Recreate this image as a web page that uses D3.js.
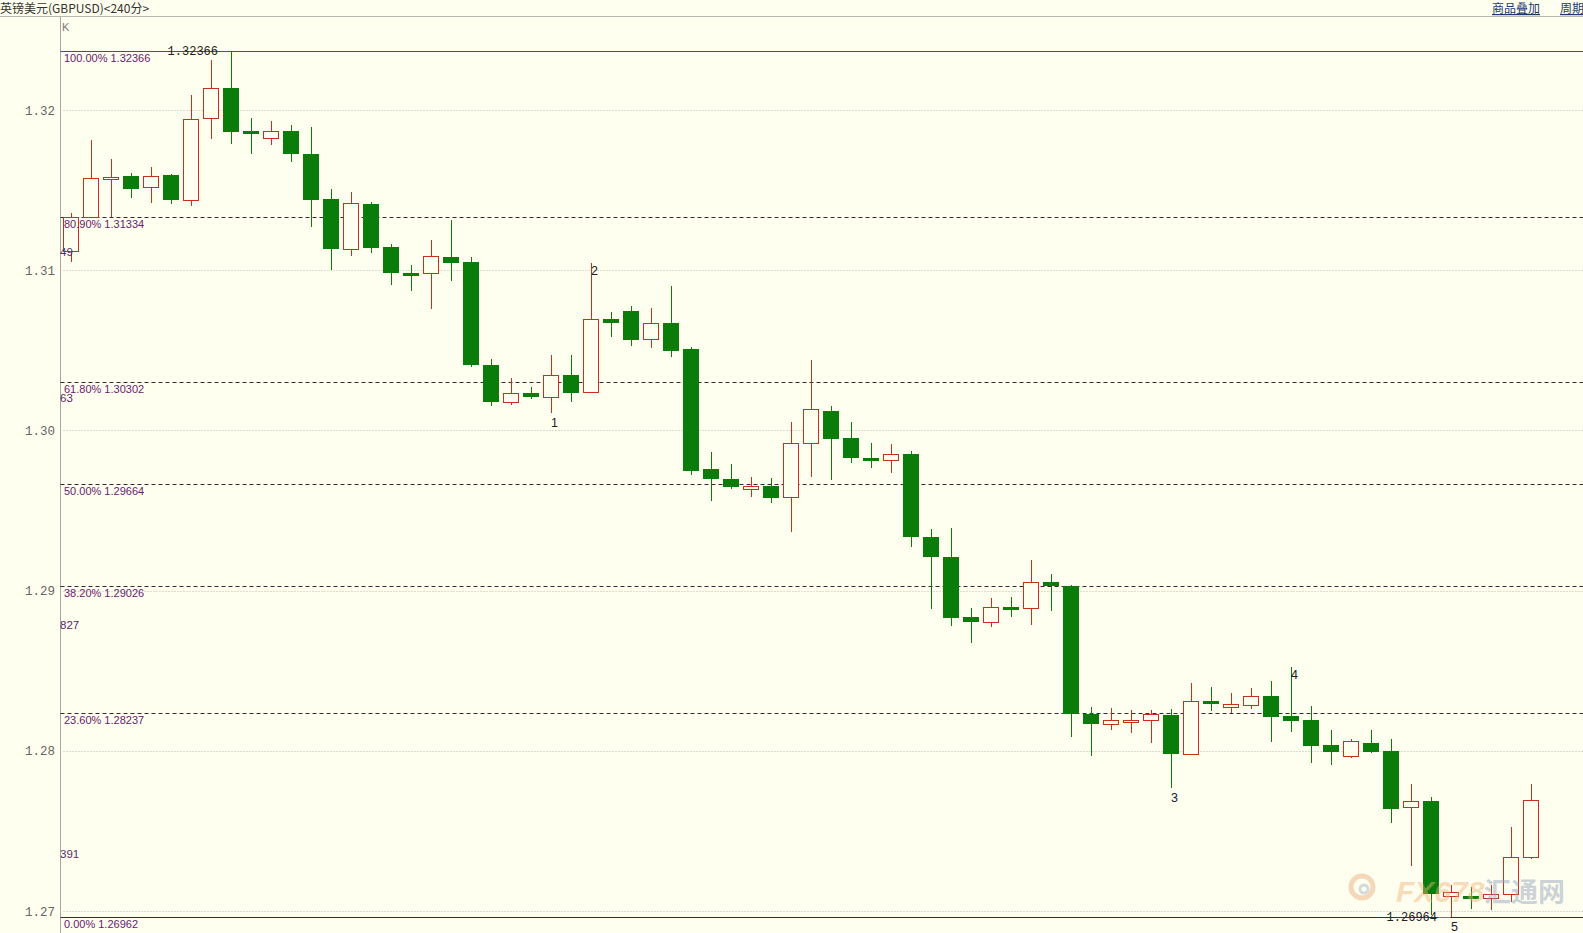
<!DOCTYPE html>
<html><head><meta charset="utf-8">
<script src="https://cdn.jsdelivr.net/npm/d3@7"></script>
<style>
html,body{margin:0;padding:0;background:#fffff0;}
svg{display:block;}
</style></head>
<body>
<svg id="chart" width="1583" height="933"></svg>
<script>
// ---- data ----
const title = "英镑美元(GBPUSD)<240分>";
const categories = d3.range(74).map(i => "K" + (i + 1));
const opens  = [1.31122,1.31334,1.31571,1.31588,1.31517,1.31594,1.31436,1.31948,1.32135,1.31869,1.31823,1.31869,1.31725,1.31443,1.31132,1.31413,1.31145,1.30984,1.30981,1.31082,1.31051,1.30408,1.30175,1.30233,1.30207,1.30346,1.30238,1.30695,1.30745,1.30569,1.30669,1.30508,1.29757,1.29695,1.29634,1.29653,1.29582,1.29919,1.30121,1.29953,1.29828,1.29813,1.29853,1.29335,1.29210,1.28835,1.28806,1.28898,1.28889,1.29052,1.29029,1.28228,1.28166,1.28192,1.28192,1.28223,1.27982,1.28311,1.28276,1.28284,1.28342,1.28217,1.28192,1.28036,1.27969,1.28049,1.27999,1.27649,1.27687,1.27096,1.27094,1.27079,1.27104,1.27335];
const highs  = [1.31359,1.31813,1.31692,1.31609,1.31646,1.31600,1.32094,1.32312,1.32366,1.31948,1.31933,1.31906,1.31896,1.31505,1.31490,1.31426,1.31165,1.31032,1.31189,1.31313,1.31080,1.30444,1.30325,1.30273,1.30471,1.30471,1.31047,1.30741,1.30777,1.30766,1.30901,1.30522,1.29863,1.29788,1.29711,1.29700,1.30054,1.30439,1.30152,1.30054,1.29919,1.29915,1.29871,1.29384,1.29389,1.28890,1.28952,1.28962,1.29191,1.29104,1.29033,1.28275,1.28265,1.28255,1.28255,1.28259,1.28425,1.28400,1.28359,1.28394,1.28436,1.28525,1.28280,1.28130,1.28072,1.28130,1.28072,1.27793,1.27713,1.27162,1.27148,1.27162,1.27522,1.27790];
const lows   = [1.31051,1.31334,1.31334,1.31453,1.31418,1.31411,1.31403,1.31821,1.31788,1.31725,1.31782,1.31677,1.31272,1.31001,1.31089,1.31109,1.30908,1.30872,1.30760,1.30934,1.30398,1.30154,1.30161,1.30196,1.30111,1.30179,1.30238,1.30585,1.30529,1.30516,1.30460,1.29722,1.29561,1.29632,1.29586,1.29549,1.29368,1.29711,1.29690,1.29798,1.29763,1.29732,1.29274,1.28883,1.28779,1.28671,1.28775,1.28833,1.28785,1.28873,1.28088,1.27967,1.28130,1.28109,1.28047,1.27766,1.27974,1.28248,1.28234,1.28259,1.28057,1.28120,1.27922,1.27911,1.27953,1.27985,1.27551,1.27283,1.26975,1.26964,1.27011,1.27006,1.27058,1.27322];
const closes = [1.31334,1.31574,1.31584,1.31509,1.31588,1.31438,1.31942,1.32135,1.31865,1.31848,1.31867,1.31723,1.31440,1.31134,1.31418,1.31140,1.30981,1.30974,1.31087,1.31043,1.30410,1.30179,1.30233,1.30207,1.30346,1.30235,1.30693,1.30672,1.30564,1.30669,1.30498,1.29748,1.29699,1.29649,1.29655,1.29580,1.29919,1.30132,1.29948,1.29830,1.29813,1.29851,1.29337,1.29212,1.28831,1.28806,1.28896,1.28885,1.29052,1.29029,1.28228,1.28166,1.28192,1.28192,1.28228,1.27982,1.28311,1.28300,1.28292,1.28340,1.28213,1.28188,1.28032,1.27994,1.28061,1.27994,1.27639,1.27687,1.27104,1.27117,1.27079,1.27104,1.27339,1.27691];
const tickValues = [1.27, 1.28, 1.29, 1.30, 1.31, 1.32];
const tickLabels = ["1.27", "1.28", "1.29", "1.30", "1.31", "1.32"];
const fibPercents = ["100.00%", "80.90%", "61.80%", "50.00%", "38.20%", "23.60%", "0.00%"];
const fibValues = [1.32366, 1.31334, 1.30302, 1.29664, 1.29026, 1.28237, 1.26962];
const waveLabels = ["1", "2", "3", "4", "5"];
const waveIndex = [24, 26, 55, 61, 69];
const waveAt = ["low", "high", "low", "high", "low"];
const sideLabels = ["49", "63", "827", "391"];
const sideValues = [1.31114, 1.30200, 1.28785, 1.27356];

// ---- scales ----
const svg = d3.select("#chart");
const W = 1583, H = 933;
const left = 60.5;
const x = d3.scaleBand().domain(categories).range([61.3, 1541.3]).paddingInner(0.2).paddingOuter(0.1);
const y = d3.scaleLinear().domain([1.27, 1.32]).range([911, 110]);
const bw = x.bandwidth();
const cx = i => Math.round(x(categories[i]) + bw / 2) + 0.5;

const UP = "#c8301e", DOWN = "#0a7c0a";

svg.append("rect").attr("width", W).attr("height", H).attr("fill", "#fffff0");

// header
svg.append("text").attr("x", 0).attr("y", 13).attr("font-family", "Noto Sans CJK SC").attr("font-size", 12).attr("fill", "#333").text(title);
svg.append("line").attr("x1", 0).attr("x2", W).attr("y1", 16.5).attr("y2", 16.5).attr("stroke", "#b8b8b0");
const link = svg.append("g").attr("font-family", "Noto Sans CJK SC").attr("font-size", 12).attr("fill", "#1c3a70").attr("text-decoration", "underline");
link.append("text").attr("x", 1492).attr("y", 13).text("商品叠加");
link.append("text").attr("x", 1560).attr("y", 13).text("周期");

// left axis line
svg.append("line").attr("x1", left).attr("x2", left).attr("y1", 17).attr("y2", H).attr("stroke", "#a8a8a0");
svg.append("text").attr("x", 62).attr("y", 31).attr("font-family", "Liberation Sans").attr("font-size", 11).attr("fill", "#777").text("K");

// gridlines
svg.append("g").selectAll("line").data(tickValues).join("line")
  .attr("x1", left + 3).attr("x2", W).attr("y1", d => Math.round(y(d)) + 0.5).attr("y2", d => Math.round(y(d)) + 0.5)
  .attr("stroke", "#b9b9b0").attr("stroke-dasharray", "1,2");

// y axis
const yAxis = d3.axisLeft(y).tickValues(tickValues).tickSize(0).tickPadding(0).tickFormat((d, i) => tickLabels[i]);
const ag = svg.append("g").attr("transform", `translate(55,0)`).call(yAxis);
ag.select(".domain").remove();
ag.selectAll("text").attr("font-family", "Liberation Mono").attr("font-size", 12.5).attr("fill", "#666");

// fib lines
const fg = svg.append("g");
fibValues.forEach((v, i) => {
  const yy = Math.round(y(v)) + 0.5;
  const solid = (i === 0 || i === fibValues.length - 1);
  fg.append("line").attr("x1", left).attr("x2", W).attr("y1", yy).attr("y2", yy)
    .attr("stroke", i === 0 ? "#5b3f96" : (solid ? "#5a1a48" : "#3a2438"))
    .attr("stroke-dasharray", solid ? null : "4,3");
});

// candles
const cg = svg.append("g");
categories.forEach((c, i) => {
  const o = opens[i], h = highs[i], l = lows[i], cl = closes[i];
  const up = cl >= o;
  const col = up ? UP : DOWN;
  const xc = cx(i);
  const x0 = Math.round(x(c));
  cg.append("line").attr("x1", xc).attr("x2", xc).attr("y1", Math.round(y(h))).attr("y2", Math.round(y(l)))
    .attr("stroke", col).attr("stroke-width", 1);
  const top = Math.round(y(Math.max(o, cl)));
  const bot = Math.round(y(Math.min(o, cl)));
  if (up) {
    cg.append("rect").attr("x", x0 + 0.5).attr("y", top + 0.5).attr("width", Math.round(bw) - 1).attr("height", Math.max(bot - top, 2))
      .attr("fill", "#fffff0").attr("stroke", col).attr("stroke-width", 1);
  } else {
    cg.append("rect").attr("x", x0).attr("y", top).attr("width", Math.round(bw)).attr("height", Math.max(bot - top, 3))
      .attr("fill", col);
  }
});

// fib labels (drawn over candles)
const fl = svg.append("g");
fibValues.forEach((v, i) => {
  const yy = Math.round(y(v)) + 0.5;
  fl.append("text").attr("x", 64).attr("y", yy + 10.5)
    .attr("font-family", "Liberation Sans").attr("font-size", 11).attr("fill", "#6a2070")
    .text(fibPercents[i] + " " + v.toFixed(5));
});

// side labels
svg.append("g").selectAll("text").data(sideLabels).join("text")
  .attr("x", 60).attr("y", (d, i) => y(sideValues[i]) + 4)
  .attr("font-family", "Liberation Sans").attr("font-size", 11.5).attr("fill", "#5a2a66")
  .text(d => d);

// high / low markers
const mk = svg.append("g").attr("font-family", "Liberation Mono").attr("font-size", 12).attr("fill", "#222");
mk.append("text").attr("x", 218).attr("y", y(highs[8]) + 4).attr("text-anchor", "end").text(highs[8].toFixed(5));
mk.append("line").attr("x1", 219).attr("x2", cx(8) - 1).attr("y1", Math.round(y(highs[8])) + 0.5).attr("y2", Math.round(y(highs[8])) + 0.5).attr("stroke", "#555");
mk.append("text").attr("x", 1437).attr("y", y(lows[69]) + 4).attr("text-anchor", "end").text(lows[69].toFixed(5));
mk.append("line").attr("x1", 1438).attr("x2", cx(69) - 1).attr("y1", Math.round(y(lows[69])) + 0.5).attr("y2", Math.round(y(lows[69])) + 0.5).attr("stroke", "#8a6a9a");

// wave labels
svg.append("g").selectAll("text").data(waveLabels).join("text")
  .attr("x", (d, i) => cx(waveIndex[i]) + 3)
  .attr("y", (d, i) => waveAt[i] === "low" ? y(lows[waveIndex[i]]) + 14 : y(highs[waveIndex[i]]) + 12)
  .attr("text-anchor", "middle").attr("font-family", "Liberation Sans").attr("font-size", 12.5).attr("fill", "#222")
  .text(d => d);

// watermark
const wm = svg.append("g").attr("opacity", 0.45);
wm.append("circle").attr("cx", 1362).attr("cy", 887).attr("r", 11).attr("fill", "none").attr("stroke", "#e9a877").attr("stroke-width", 5);
wm.append("circle").attr("cx", 1364).attr("cy", 889).attr("r", 4).attr("fill", "none").attr("stroke", "#9fb0c8").attr("stroke-width", 3);
wm.append("text").attr("x", 1396).attr("y", 902).attr("font-family", "Liberation Sans").attr("font-weight", "bold").attr("font-style", "italic")
  .attr("font-size", 30).attr("fill", "#f0b27a").text("FX678");
wm.append("text").attr("x", 1484).attr("y", 902).attr("font-family", "Noto Sans CJK SC").attr("font-weight", "bold")
  .attr("font-size", 27).attr("fill", "#8fa0bb").text("汇通网");
</script>
</body></html>
